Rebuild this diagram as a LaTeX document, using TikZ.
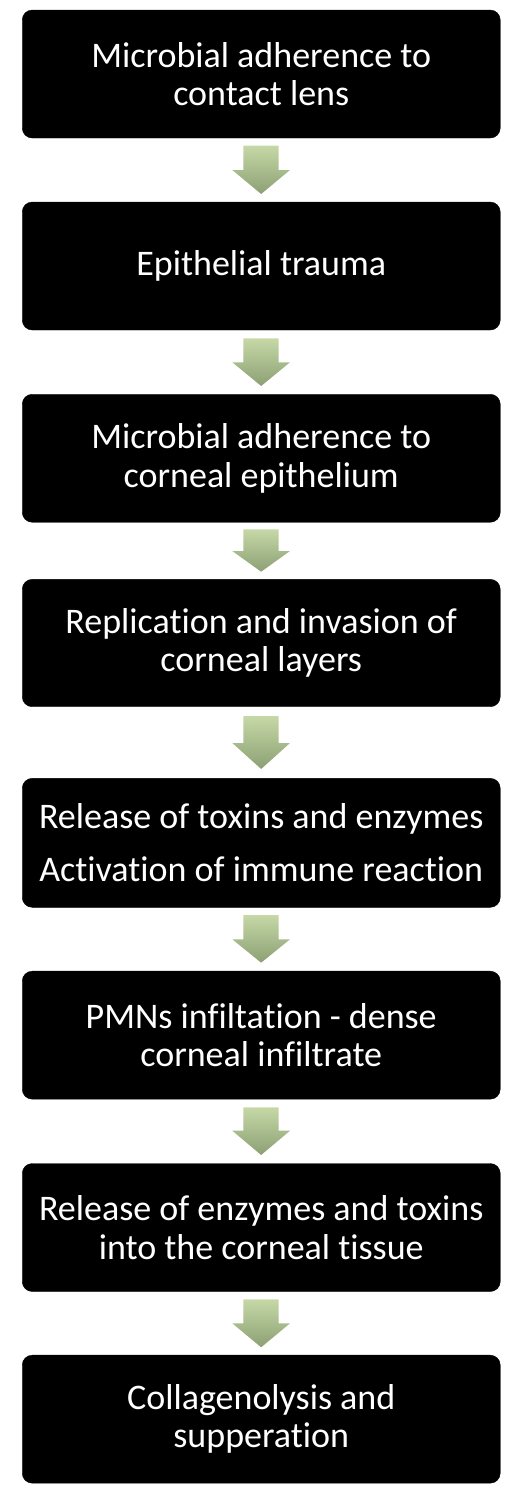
\documentclass[tikz,border=0pt]{standalone}
\usepackage{fontspec}
\setmainfont[Ligatures=CommonOff]{Carlito}
\definecolor{arrtop}{RGB}{198,216,166}
\definecolor{arrbot}{RGB}{140,160,116}
\tikzset{
  stepbox/.style={rectangle, rounded corners=10pt, fill=black, draw=black,
    minimum width=478pt, minimum height=128pt, inner sep=0pt,
    text=white, align=center, font=\fontsize{36}{38.3}\selectfont},
  flowarrow/.style={top color=arrtop, bottom color=arrbot, draw=none}
}
\newcommand{\garrow}[4]{% name, top, head, tip
  \shade[flowarrow] (243.3,#2) -- (278.7,#2) -- (278.7,#3) -- (290,#3)
     -- (261.15,#4) -- (232.3,#3) -- (243.3,#3) -- cycle;
  \coordinate (#1) at (261.15,#2);
}
\begin{document}
\begin{tikzpicture}[x=1pt,y=-1pt]
\useasboundingbox (0,0) rectangle (523,1500);
\node[stepbox] (b1) at (261.25,74) {Microbial adherence to\\contact lens};
\node[stepbox] (b2) at (261.25,266) {Epithelial trauma};
\node[stepbox] (b3) at (261.25,458.25) {Microbial adherence to\\corneal epithelium};
\node[stepbox, minimum height=127.4pt] (b4) at (261.25,643) {Replication and invasion of\\corneal layers};
\node[stepbox, minimum height=129pt, font=\fontsize{36}{53.3}\selectfont] (b5) at (261.25,842.8) {Release of toxins and enzymes\\Activation of immune reaction};
\node[stepbox] (b6) at (261.25,1035.15) {PMNs infiltation - dense\\corneal infiltrate};
\node[stepbox] (b7) at (261.25,1227.5) {Release of enzymes and toxins\\into the corneal tissue};
\node[stepbox] (b8) at (261.25,1419.15) {Collagenolysis and\\supperation};
\garrow{a1}{145.7}{170}{194}
\garrow{a2}{338.3}{362.3}{386}
\garrow{a3}{529.3}{551}{571.7}
\garrow{a4}{716}{743}{769}
\garrow{a5}{915}{939.3}{962.7}
\garrow{a6}{1107.3}{1130.7}{1155}
\garrow{a7}{1299.3}{1323.3}{1347.3}
\end{tikzpicture}
\end{document}
